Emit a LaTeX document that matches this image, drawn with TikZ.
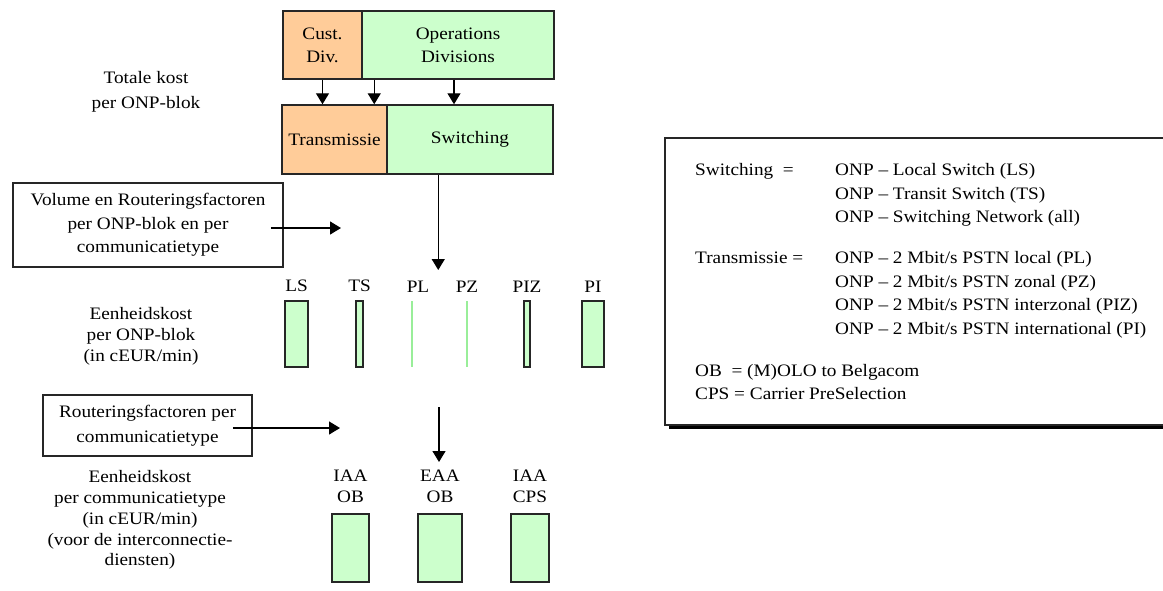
\documentclass[tikz,border=0pt]{standalone}
\usepackage{fontspec}
\setmainfont{Liberation Serif}[FakeStretch=1.1]
\usetikzlibrary{arrows.meta,shadows}

\definecolor{peach}{HTML}{FFCC99}
\definecolor{mint}{HTML}{CCFFCC}
\definecolor{paleline}{HTML}{99EE99}

\begin{document}
\begin{tikzpicture}[
        x=1pt, y=-1pt,
        txt/.style={font=\fontsize{17.5}{21}\selectfont, align=center, inner sep=0pt},
        blk/.style={draw=black!85, line width=1.5pt, txt, font=\fontsize{17.5}{23}\selectfont},
        note/.style={draw=black!85, line width=1.5pt, txt},
        bar/.style={draw=black!85, line width=1.5pt, fill=mint, inner sep=0pt, minimum height=66pt},
        sliver/.style={fill=paleline, inner sep=0pt, minimum width=1.5pt, minimum height=66pt},
        lbl/.style={txt, yshift=8pt},
        arr/.style={line width=1.3pt, -{Triangle[length=11pt,width=13pt]}},
    ]
    \useasboundingbox (0,0) rectangle (1163,590);

    % kostenblokken bovenaan
    \node [blk, fill=peach, minimum width=79pt,  minimum height=68pt] (custdiv)   at (322.5,45)  {Cust.\\Div.};
    \node [blk, fill=mint,  minimum width=192pt, minimum height=68pt] (opsdiv)    at (458,45)    {Operations\\Divisions};
    \node [blk, fill=peach, minimum width=105pt, minimum height=69pt] (transm)    at (334.5,139.5) {Transmissie};
    \node [blk, fill=mint,  minimum width=166pt, minimum height=69pt] (switching) at (470,139.5) {Switching};

    \coordinate (c2) at ([xshift=13pt]opsdiv.south west);
    \coordinate (c3) at ([xshift=-4pt]opsdiv.south);
    \draw [arr] (custdiv.south) -- (custdiv.south |- transm.north);
    \draw [arr] (c2) -- (c2 |- transm.north);
    \draw [arr] (c3) -- (c3 |- switching.north);

    \coordinate (c4) at ([xshift=52pt]switching.south west);
    \coordinate (hit1) at (439,270);
    \draw [arr] (c4) -- (c4 |- hit1);

    % teksten links
    \node [txt, font=\fontsize{17.5}{25}\selectfont] (totale) at (146,92) {Totale kost\\per ONP-blok};
    \node [note, font=\fontsize{17.5}{23.5}\selectfont, minimum width=270pt, minimum height=84pt] (volume) at (148,225)
        {Volume en Routeringsfactoren\\per ONP-blok en per\\communicatietype};
    \node [txt] (eenh1) at (141,336) {Eenheidskost\\per ONP-blok\\(in cEUR/min)};
    \node [note, font=\fontsize{17.5}{25}\selectfont, minimum width=209pt, minimum height=61pt] (routing) at (147.5,425.5)
        {Routeringsfactoren per\\communicatietype};
    \node [txt, font=\fontsize{17.5}{20.8}\selectfont] (eenh2) at (140,520)
        {Eenheidskost\\per communicatietype\\(in cEUR/min)\\(voor de interconnectie-\\diensten)};

    \coordinate (v0) at ([xshift=-13pt]volume.east);
    \coordinate (hit2) at (341,228);
    \draw [arr] (v0 |- hit2) -- (hit2);

    \coordinate (r0) at ([xshift=-20pt]routing.east);
    \coordinate (hit3) at (340,428);
    \draw [arr] (r0 |- hit3) -- (hit3);

    % eenheidskost per ONP-blok
    \node [bar, minimum width=23pt, label={[lbl]above:LS}]  (ls)  at (296.5,334) {};
    \node [bar, minimum width=7pt,  label={[lbl]above:TS}]  (ts)  at (359.5,334) {};
    \node [sliver, label={[lbl,xshift=6pt]above:PL}]        (pl)  at (412,334)   {};
    \node [sliver, label={[lbl]above:PZ}]                   (pz)  at (467,334)   {};
    \node [bar, minimum width=6pt,  label={[lbl]above:PIZ}] (piz) at (527,334)   {};
    \node [bar, minimum width=22pt, label={[lbl]above:PI}]  (pi)  at (593,334)   {};

    % eenheidskost per communicatietype
    \coordinate (top4) at (439,407);
    \coordinate (hit4) at (439,462);
    \draw [arr] (top4) -- (hit4);

    \node [bar, minimum height=68pt, minimum width=37pt, label={[lbl,yshift=2pt]above:IAA\\OB}]  (iaaob)  at (350.5,548) {};
    \node [bar, minimum height=68pt, minimum width=44pt, label={[lbl,yshift=2pt]above:EAA\\OB}]  (eaaob)  at (440,548)   {};
    \node [bar, minimum height=68pt, minimum width=38pt, label={[lbl,yshift=2pt]above:IAA\\CPS}] (iaacps) at (530,548)   {};

    % legende
    \node [draw=black!85, line width=1.5pt, fill=white, minimum width=510pt, minimum height=287pt,
           drop shadow={shadow xshift=4pt, shadow yshift=-4pt, fill=black, opacity=1}] (legendbox) at (920,281.5) {};
    \node [txt, align=left, font=\fontsize{17.5}{23.5}\selectfont, anchor=north west] (legendtxt) at (695,163.5)
        {\makebox[140pt][l]{Switching\ \ =}ONP – Local Switch (LS)\\
         \makebox[140pt][l]{}ONP – Transit Switch (TS)\\
         \makebox[140pt][l]{}ONP – Switching Network (all)\\[17.5pt]
         \makebox[140pt][l]{Transmissie =}ONP – 2 Mbit/s PSTN local (PL)\\
         \makebox[140pt][l]{}ONP – 2 Mbit/s PSTN zonal (PZ)\\
         \makebox[140pt][l]{}ONP – 2 Mbit/s PSTN interzonal (PIZ)\\
         \makebox[140pt][l]{}ONP – 2 Mbit/s PSTN international (PI)\\[18.5pt]
         OB\ \ = (M)OLO to Belgacom\\
         CPS = Carrier PreSelection};
\end{tikzpicture}
\end{document}
